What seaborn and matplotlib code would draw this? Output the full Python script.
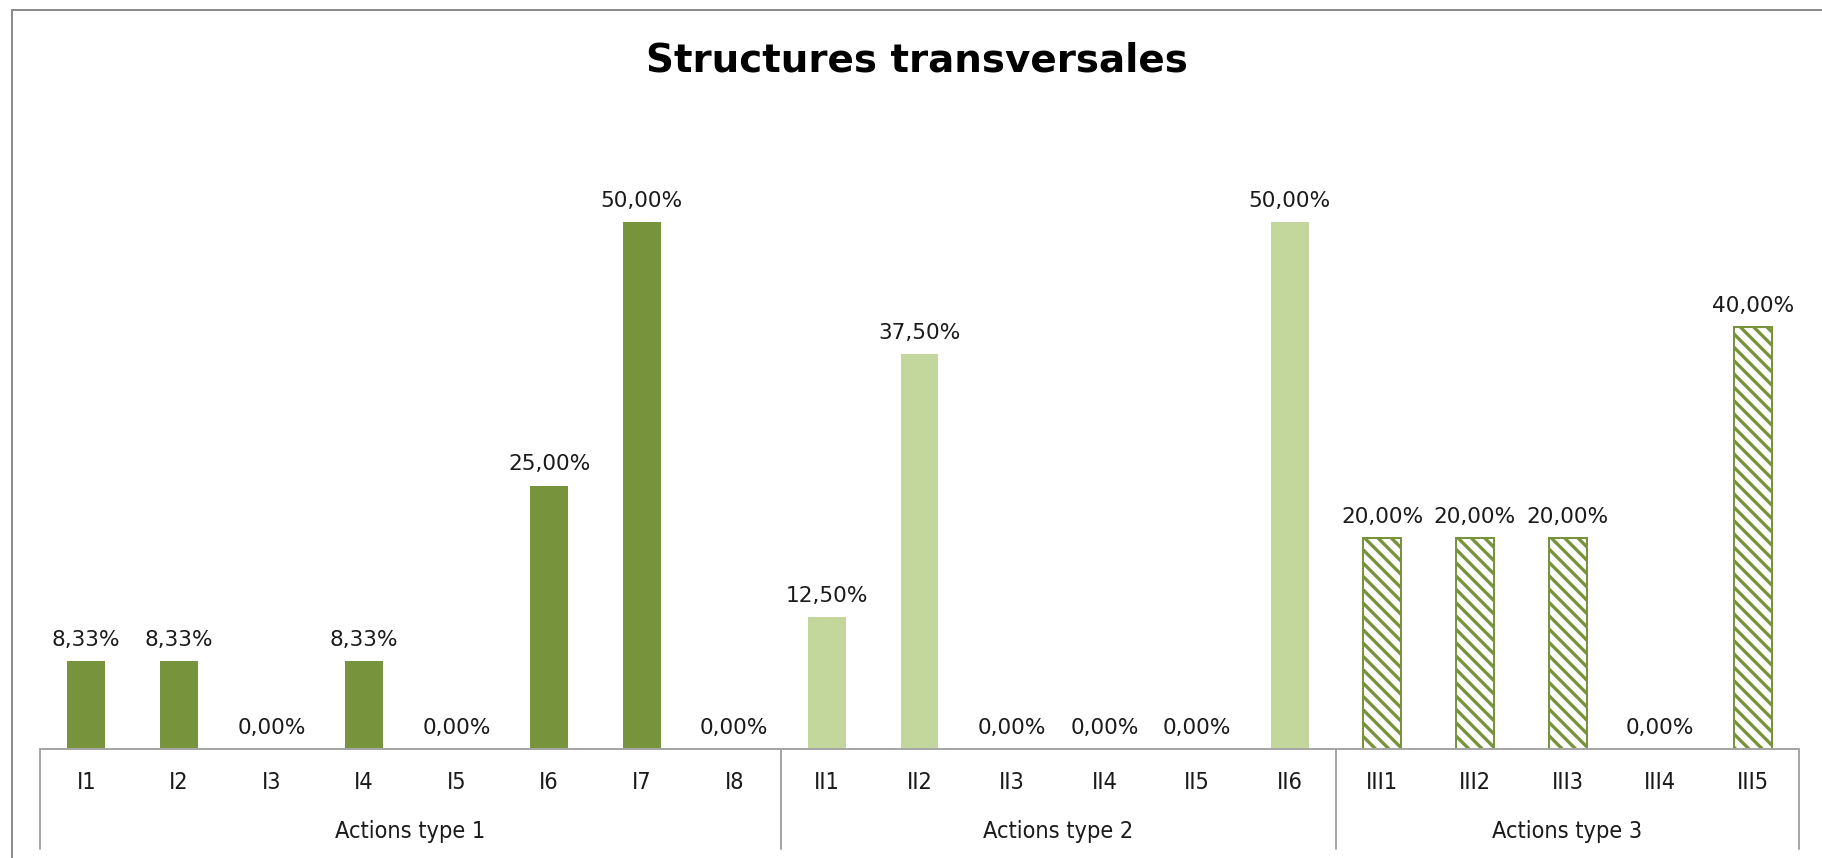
import pandas as pd
import matplotlib.pyplot as plt
import matplotlib.font_manager as fm
import seaborn as sns
from matplotlib.lines import Line2D
import matplotlib.transforms as mtransforms


# =========================
# DATA
# =========================
codes_1 = ["I1", "I2", "I3", "I4", "I5", "I6", "I7", "I8"]
values_1 = [8.33, 8.33, 0.00, 8.33, 0.00, 25.00, 50.00, 0.00]

codes_2 = ["II1", "II2", "II3", "II4", "II5", "II6"]
values_2 = [12.50, 37.50, 0.00, 0.00, 0.00, 50.00]

codes_3 = ["III1", "III2", "III3", "III4", "III5"]
values_3 = [20.00, 20.00, 20.00, 0.00, 40.00]

groups = ["Actions type 1", "Actions type 2", "Actions type 3"]
title = "Structures transversales"

# =========================
# SETTINGS
# =========================
DARK = "#77933C"
LIGHT = "#C3D69B"
TEXT = "#1a1a1a"
DPI = 80

sns.set_style("white")
plt.rcParams["font.family"] = ["DejaVu Sans"]
plt.rcParams["hatch.linewidth"] = 3.0

# pick a narrow font for the category axis if one is installed
entries = fm.fontManager.ttflist
names = {f.name for f in entries}
if "Liberation Sans Narrow" in names:
    NARROW = dict(family=["Liberation Sans Narrow", "DejaVu Sans"], fontsize=25)
elif any(f.name == "DejaVu Sans" and str(f.stretch) == "condensed" for f in entries):
    NARROW = dict(family=["DejaVu Sans"], fontstretch="condensed", fontsize=21)
else:
    NARROW = dict(family=["Roboto", "DejaVu Sans"], fontsize=21)

df = pd.DataFrame({
    "code": codes_1 + codes_2 + codes_3,
    "value": values_1 + values_2 + values_3,
    "group": [groups[0]] * len(codes_1) + [groups[1]] * len(codes_2) + [groups[2]] * len(codes_3),
})

fig = plt.figure(figsize=(1822 / DPI, 858 / DPI), dpi=DPI)
ax = fig.add_axes([40 / 1822, 109 / 858, 1759 / 1822, 0.737])

sns.barplot(data=df, x="code", y="value", hue="group",
            palette={groups[0]: DARK, groups[1]: LIGHT, groups[2]: "white"},
            dodge=False, width=0.41, saturation=1, legend=False,
            linewidth=0, ax=ax)

# hatched third group
for bar in ax.containers[2]:
    bar.set_facecolor("white")
    bar.set_edgecolor(DARK)
    bar.set_hatch("\\\\")
    bar.set_linewidth(1.8)

# value labels
for cont in ax.containers:
    vals = [b.get_height() for b in cont]
    labels = [f"{v:.2f}".replace(".", ",") + "%" for v in vals]
    ax.bar_label(cont, labels=labels, padding=10, fontsize=19.5, color=TEXT)

ax.set_ylim(0, 60)
ax.set_xlim(-0.5, len(df) - 0.5)
ax.set_xlabel("")
ax.set_ylabel("")
ax.set_yticks([])
for side in ["left", "right", "top"]:
    ax.spines[side].set_visible(False)
ax.spines["bottom"].set_color("#a6a6a6")
ax.spines["bottom"].set_linewidth(1.8)
ax.tick_params(axis="x", length=0, pad=20, labelcolor=TEXT)
for lab in ax.get_xticklabels():
    lab.set(**NARROW)

# group separators and group labels
trans = mtransforms.blended_transform_factory(ax.transData, ax.transAxes)
sizes = [len(codes_1), len(codes_2), len(codes_3)]
start = -0.5
edges = [start]
for g, n in zip(groups, sizes):
    ax.text(start + n / 2, -0.131, g, transform=trans, ha="center", va="center",
            color=TEXT, **NARROW)
    start += n
    edges.append(start)
for e in edges:
    ax.plot([e, e], [0, -0.158], transform=trans, color="#a6a6a6",
            linewidth=1.8, clip_on=False)

# title
fig.text(0.503, 1 - 71 / 858, title, ha="center", va="baseline",
         fontsize=35, fontweight="bold", color="black")

# outer frame (left and top visible)
fig.add_artist(Line2D([12 / 1822, 12 / 1822], [0, 1 - 10 / 858], transform=fig.transFigure,
                      color="#8c8c8c", linewidth=1.8))
fig.add_artist(Line2D([12 / 1822, 1], [1 - 10 / 858, 1 - 10 / 858], transform=fig.transFigure,
                      color="#8c8c8c", linewidth=1.8))

fig.savefig("out.png", dpi=DPI, facecolor="white")
